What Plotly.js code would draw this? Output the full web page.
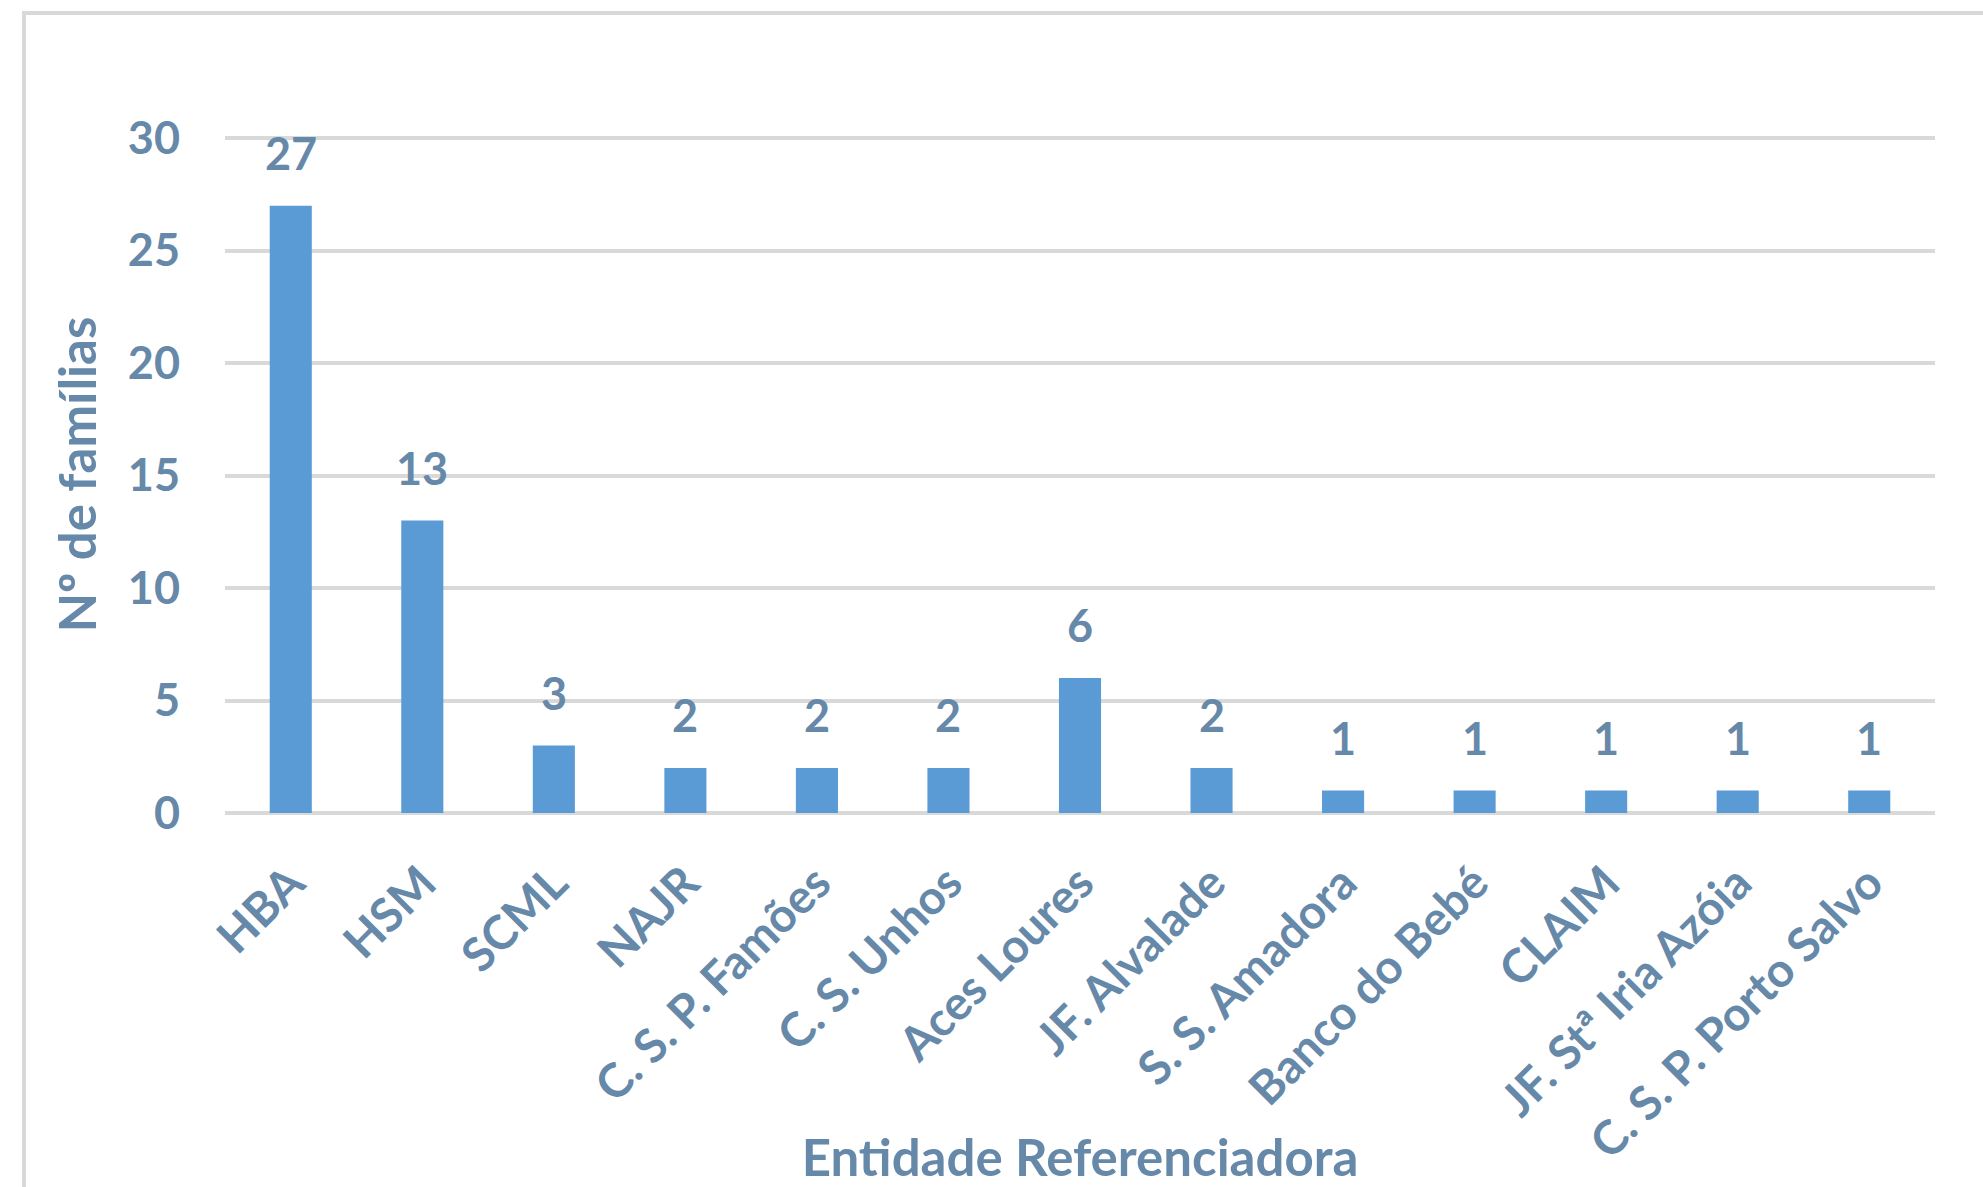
<!DOCTYPE html>
<html>
<head>
<meta charset="utf-8">
<script src="https://cdn.plot.ly/plotly-3.0.1.min.js"></script>
<style>
  html, body { margin: 0; padding: 0; background: #ffffff; }
  #frame { position: absolute; left: 22px; top: 11px; width: 2100px; height: 1300px;
           border-left: 4px solid #d9d9d9; border-top: 4px solid #d9d9d9; box-sizing: border-box; }
  #chart { position: absolute; left: 0; top: 0; width: 1983px; height: 1187px; }
</style>
</head>
<body>
<div id="frame"></div>
<div id="chart"></div>
<script>
const categories = ["HBA", "HSM", "SCML", "NAJR", "C. S. P. Famões", "C. S. Unhos", "Aces Loures",
  "JF. Alvalade", "S. S. Amadora", "Banco do Bebé", "CLAIM", "JF. Stª Iria Azóia", "C. S. P. Porto Salvo"];
const familias = [27, 13, 3, 2, 2, 2, 6, 2, 1, 1, 1, 1, 1];
const yTicks = [0, 5, 10, 15, 20, 25, 30];

const textColor = "#6689a9";
const fontFam = "Lato, 'Open Sans', sans-serif";

const trace = {
  type: "bar",
  x: categories,
  y: familias,
  marker: { color: "#5b9bd5" },
  hoverinfo: "x+y"
};

const annotations = categories.map((c, i) => ({
  x: c, y: familias[i], xref: "x", yref: "y",
  text: "<b>" + familias[i] + "</b>",
  showarrow: false, yanchor: "bottom", yshift: 24,
  font: { family: fontFam, size: 45, color: textColor }
}));

const layout = {
  width: 1983, height: 1187,
  margin: { l: 225, r: 48, t: 136, b: 374 },
  paper_bgcolor: "rgba(0,0,0,0)",
  plot_bgcolor: "rgba(0,0,0,0)",
  bargap: 0.68,
  showlegend: false,
  font: { family: fontFam, color: textColor },
  xaxis: {
    type: "category",
    tickangle: -45,
    tickfont: { family: fontFam, size: 47, color: textColor, weight: "bold" },
    showgrid: false,
    showline: false,
    zeroline: false,
    ticks: "",
    ticklabelstandoff: 32,
    automargin: false,
    title: { text: "<b>Entidade Referenciadora</b>", font: { family: fontFam, size: 51, color: textColor }, standoff: 0 }
  },
  yaxis: {
    range: [0, 30.1],
    tickvals: yTicks,
    ticktext: yTicks.map(String),
    tickfont: { family: fontFam, size: 45, color: textColor, weight: "bold" },
    showgrid: true,
    gridcolor: "#d9d9d9",
    gridwidth: 4,
    zeroline: true,
    zerolinecolor: "#d9d9d9",
    zerolinewidth: 4,
    showline: false,
    ticks: "",
    ticklabelstandoff: 44,
    automargin: false,
    title: { text: "<b>Nº de famílias</b>", font: { family: fontFam, size: 51, color: textColor }, standoff: 14 }
  },
  annotations: annotations
};

Plotly.newPlot("chart", [trace], layout, { displayModeBar: false, staticPlot: true });
</script>
</body>
</html>
